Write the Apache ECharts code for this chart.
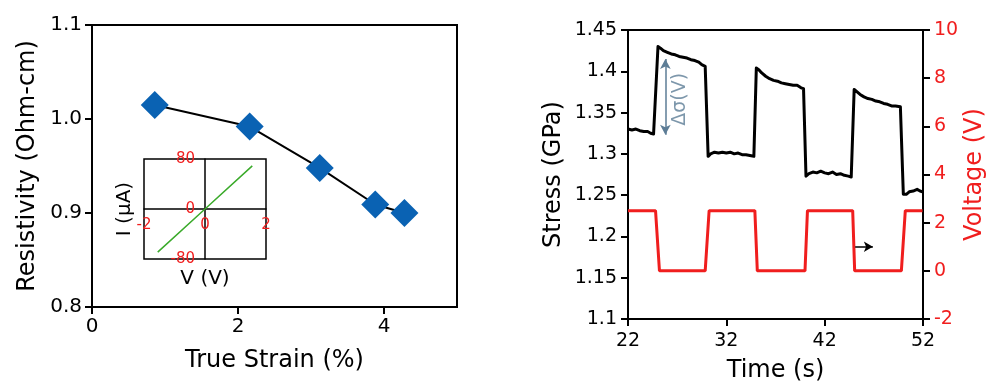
<!DOCTYPE html>
<html>
<head>
<meta charset="utf-8">
<script src="https://cdn.jsdelivr.net/npm/echarts@6/dist/echarts.min.js"></script>
<style>html,body{margin:0;padding:0;background:#fff}#c{width:1000px;height:388px}</style>
</head>
<body>
<div id="c"></div>
<script>
// ---- Left chart data ----
const strainX = [0.86, 2.16, 3.12, 3.88, 4.28];
const resistivity = [1.015, 0.992, 0.948, 0.909, 0.900];
const leftXTicks = ['0', '2', '4'];
const leftYTicks = ['0.8', '0.9', '1.0', '1.1'];

// ---- Inset I-V data ----
const ivVoltage = [-1.55, 0, 1.55];
const ivCurrent = [-69, 0, 69];
const insetXTicks = ['-2', '0', '2'];
const insetYTicks = ['-80', '0', '80'];

// ---- Right chart data ----
const timeS = [22.0,22.4,22.8,23.2,23.6,24.0,24.3,24.6,24.8,
  25.05,25.3,25.6,26.0,26.4,26.8,27.2,27.6,28.0,28.4,28.8,29.2,29.5,29.85,
  30.15,30.4,30.8,31.2,31.6,32.0,32.4,32.8,33.2,33.6,34.0,34.4,34.8,
  35.05,35.3,35.6,36.0,36.4,36.8,37.2,37.6,38.0,38.4,38.8,39.2,39.6,39.85,
  40.1,40.4,40.8,41.2,41.6,42.0,42.4,42.8,43.2,43.6,44.0,44.4,44.7,
  45.0,45.3,45.6,46.0,46.4,46.8,47.2,47.6,48.0,48.4,48.8,49.2,49.7,
  50.0,50.3,50.6,51.0,51.4,51.7,51.95];
const stressGPa = [1.330,1.329,1.330,1.328,1.327,1.327,1.325,1.324,1.323,
  1.430,1.428,1.425,1.423,1.421,1.420,1.418,1.417,1.416,1.414,1.413,1.411,1.408,1.406,
  1.297,1.300,1.302,1.301,1.302,1.301,1.302,1.300,1.301,1.299,1.299,1.298,1.297,
  1.404,1.402,1.398,1.394,1.391,1.389,1.388,1.386,1.385,1.384,1.383,1.383,1.380,1.379,
  1.273,1.276,1.278,1.277,1.279,1.277,1.276,1.278,1.275,1.276,1.274,1.273,1.272,
  1.378,1.375,1.372,1.369,1.367,1.366,1.364,1.363,1.361,1.360,1.358,1.358,1.357,
  1.251,1.251,1.254,1.255,1.257,1.255,1.254];
const voltT = [22, 24.8, 25.2, 29.85, 30.25, 34.9, 35.15, 40.0, 40.25, 44.85, 45.05, 49.8, 50.2, 51.95];
const voltV = [2.5, 2.5, 0, 0, 2.5, 2.5, 0, 0, 2.5, 2.5, 0, 0, 2.5, 2.5];
const timeTicks = ['22', '32', '42', '52'];
const stressTicks = ['1.1', '1.15', '1.2', '1.25', '1.3', '1.35', '1.4', '1.45'];
const voltTicks = ['-2', '0', '2', '4', '6', '8', '10'];

// annotation values (data units)
const deltaArrow = {t: 25.8, from: 1.323, to: 1.415};
const deltaLabel = {t: 27.25, s: 1.366, text: 'Δσ(V)'};
const axisArrow = {from: 45.1, to: 46.9, v: 1.0};

const pick = (arr) => (v) => {
  const m = arr.find(s => Math.abs(parseFloat(s) - v) < 1e-6);
  return m === undefined ? '' : m;
};
const zip = (a, b) => a.map((x, i) => [x, b[i]]);

const F = 'DejaVu Sans';
const black = '#000';
const red = '#f01e1e';
const slate = '#5d7d96';

// inset box geometry (px)
const inset = {left: 144, right: 734, top: 159, bottom: 129};
const insetW = 1000 - inset.left - inset.right;
const insetH = 388 - inset.top - inset.bottom;

const chart = echarts.init(document.getElementById('c'), null, {renderer: 'canvas'});
chart.setOption({
  animation: false,
  textStyle: {fontFamily: F},
  grid: [
    {left: 92, right: 543, top: 25, bottom: 81, show: true, borderColor: black, borderWidth: 2, backgroundColor: 'transparent'},
    {left: inset.left, right: inset.right, top: inset.top, bottom: inset.bottom, show: true, borderColor: black, borderWidth: 1.5, backgroundColor: 'transparent'},
    {left: 628, right: 77, top: 30, bottom: 61, show: true, borderColor: black, borderWidth: 2, backgroundColor: 'transparent'}
  ],
  xAxis: [
    {gridIndex: 0, type: 'value', min: 0, max: 5, interval: 2,
     name: 'True Strain (%)', nameLocation: 'middle', nameGap: 42,
     nameTextStyle: {fontSize: 24, color: black, fontFamily: F},
     axisLine: {show: true, onZero: false, lineStyle: {color: black, width: 2}},
     axisTick: {show: true, inside: false, length: 7, lineStyle: {color: black, width: 2}, customValues: [0, 2, 4]},
     axisLabel: {fontSize: 20, color: black, margin: 10, formatter: pick(leftXTicks), customValues: [0, 2, 4]},
     splitLine: {show: false}},
    {gridIndex: 1, type: 'value', min: -2, max: 2, interval: 2, offset: -insetH / 2,
     axisLine: {show: true, onZero: false, lineStyle: {color: black, width: 1.5}},
     axisTick: {show: false},
     axisLabel: {fontSize: 15, color: red, margin: 9, formatter: pick(insetXTicks), showMinLabel: true, showMaxLabel: true},
     name: 'V (V)', nameLocation: 'middle', nameGap: 60, nameMoveOverlap: false,
     nameTextStyle: {fontSize: 20, color: black, fontFamily: F},
     splitLine: {show: false}},
    {gridIndex: 2, type: 'value', min: 22, max: 52, interval: 10,
     name: 'Time (s)', nameLocation: 'middle', nameGap: 40,
     nameTextStyle: {fontSize: 24, color: black, fontFamily: F},
     axisLine: {show: true, onZero: false, lineStyle: {color: black, width: 2}},
     axisTick: {show: true, length: 7, lineStyle: {color: black, width: 2}},
     axisLabel: {fontSize: 19, color: black, margin: 13, formatter: pick(timeTicks)},
     splitLine: {show: false}}
  ],
  yAxis: [
    {gridIndex: 0, type: 'value', min: 0.8, max: 1.1, interval: 0.1,
     name: 'Resistivity (Ohm-cm)', nameLocation: 'middle', nameGap: 52,
     nameTextStyle: {fontSize: 24, color: black, fontFamily: F},
     axisLine: {show: true, onZero: false, lineStyle: {color: black, width: 2}},
     axisTick: {show: true, length: 7, lineStyle: {color: black, width: 2}},
     axisLabel: {fontSize: 20, color: black, margin: 10, formatter: pick(leftYTicks)},
     splitLine: {show: false}},
    {gridIndex: 1, type: 'value', min: -80, max: 80, interval: 80, offset: -insetW / 2,
     axisLine: {show: true, onZero: false, lineStyle: {color: black, width: 1.5}},
     axisTick: {show: false},
     axisLabel: {fontSize: 15, color: red, margin: 10, formatter: pick(insetYTicks)},
     name: 'I (μA)', nameLocation: 'middle', nameGap: 70, nameMoveOverlap: false,
     nameTextStyle: {fontSize: 20, color: black, fontFamily: F},
     splitLine: {show: false}},
    {gridIndex: 2, type: 'value', min: 1.1, max: 1.45, interval: 0.05,
     name: 'Stress (GPa)', nameLocation: 'middle', nameGap: 62,
     nameTextStyle: {fontSize: 24, color: black, fontFamily: F},
     axisLine: {show: true, onZero: false, lineStyle: {color: black, width: 2}},
     axisTick: {show: true, length: 7, lineStyle: {color: black, width: 2}},
     axisLabel: {fontSize: 19, color: black, margin: 11, formatter: pick(stressTicks)},
     splitLine: {show: false}},
    {gridIndex: 2, type: 'value', min: -2, max: 10, interval: 2, position: 'right',
     name: 'Voltage (V)', nameLocation: 'middle', nameGap: 40, nameRotate: 90,
     nameTextStyle: {fontSize: 24, color: red, fontFamily: F},
     axisLine: {show: true, onZero: false, lineStyle: {color: black, width: 2}},
     axisTick: {show: true, length: 7, lineStyle: {color: black, width: 2}},
     axisLabel: {fontSize: 19, color: red, margin: 11, formatter: pick(voltTicks)},
     splitLine: {show: false}}
  ],
  series: [
    {type: 'line', xAxisIndex: 0, yAxisIndex: 0, data: zip(strainX, resistivity),
     symbol: 'diamond', symbolSize: 28, showAllSymbol: true,
     itemStyle: {color: '#0a62b3', borderWidth: 0},
     lineStyle: {color: black, width: 2}, z: 3},
    {type: 'line', xAxisIndex: 1, yAxisIndex: 1, data: zip(ivVoltage, ivCurrent),
     symbol: 'none', lineStyle: {color: '#3aaa2a', width: 1.5}, z: 4},
    {type: 'line', xAxisIndex: 2, yAxisIndex: 2, data: zip(timeS, stressGPa),
     symbol: 'none', lineStyle: {color: black, width: 3, join: 'round'},
     markLine: {silent: true, symbol: ['arrow', 'arrow'], symbolSize: [8, 10],
       lineStyle: {color: slate, width: 1.5, type: 'solid'}, label: {show: false},
       data: [[{coord: [deltaArrow.t, deltaArrow.from]}, {coord: [deltaArrow.t, deltaArrow.to]}]]}},
    {type: 'scatter', xAxisIndex: 2, yAxisIndex: 2, data: [[deltaLabel.t, deltaLabel.s]],
     symbolSize: 0, silent: true,
     label: {show: true, position: 'inside', rotate: 90, formatter: deltaLabel.text,
       fontSize: 19, color: slate, fontFamily: F}},
    {type: 'line', xAxisIndex: 2, yAxisIndex: 3, data: zip(voltT, voltV),
     symbol: 'none', lineStyle: {color: red, width: 3},
     markLine: {silent: true, symbol: ['none', 'arrow'], symbolSize: [8, 9],
       lineStyle: {color: black, width: 1.5, type: 'solid'}, label: {show: false},
       data: [[{coord: [axisArrow.from, axisArrow.v]}, {coord: [axisArrow.to, axisArrow.v]}]]}}
  ]
});
</script>
</body>
</html>
